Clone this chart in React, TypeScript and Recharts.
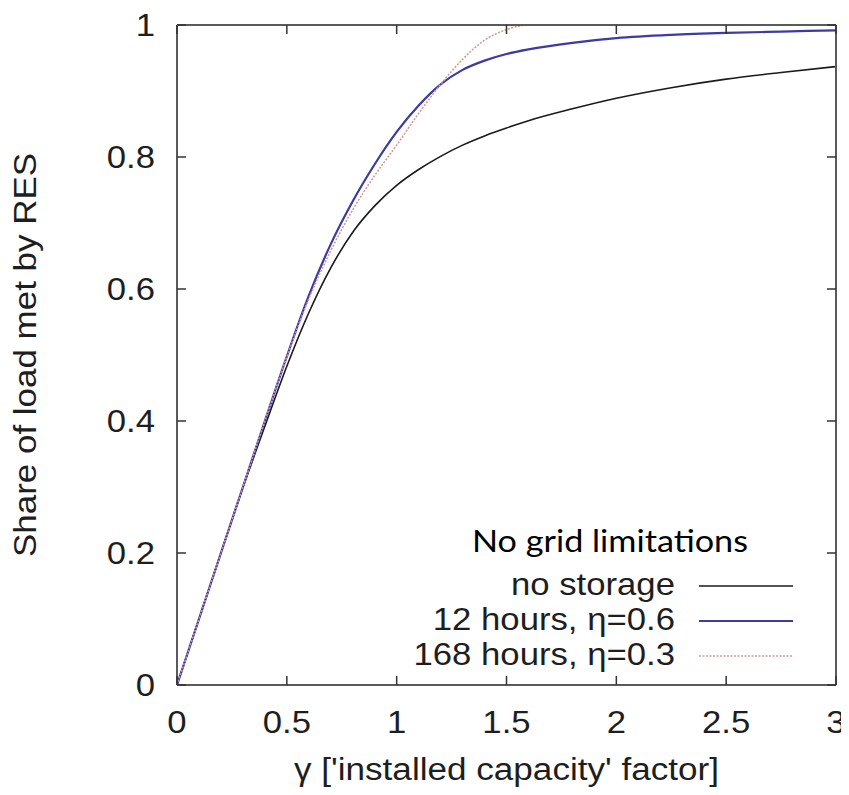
import React from 'react';
import { LineChart, Line, XAxis, YAxis, Legend } from 'recharts';

// ---- data ----
const gamma = [0, 0.1, 0.2, 0.3, 0.4, 0.5, 0.6, 0.7, 0.8, 0.9, 1.0, 1.1, 1.2, 1.3, 1.4, 1.5, 1.6, 1.8, 2.0, 2.25, 2.5, 2.75, 3.0];
const noStorage = [0, 0.1, 0.2, 0.299, 0.392, 0.483, 0.564, 0.632, 0.686, 0.726, 0.757, 0.781, 0.801, 0.818, 0.832, 0.844, 0.855, 0.873, 0.889, 0.905, 0.918, 0.928, 0.937];
const hours12 = [0, 0.1, 0.2, 0.3, 0.4, 0.498, 0.59, 0.668, 0.733, 0.789, 0.838, 0.878, 0.91, 0.932, 0.946, 0.956, 0.963, 0.973, 0.98, 0.985, 0.988, 0.99, 0.992];
const hours168 = [0, 0.1, 0.2, 0.3, 0.4, 0.497, 0.585, 0.658, 0.72, 0.772, 0.818, 0.866, 0.91, 0.948, 0.977, 0.993, 1.0, 1.0, 1.0, 1.0, 1.0, 1.0, 1.0];

const xTicks = [0, 0.5, 1, 1.5, 2, 2.5, 3];
const yTicks = [0, 0.2, 0.4, 0.6, 0.8, 1];

const seriesNames = ['no storage', '12 hours, \u03b7=0.6', '168 hours, \u03b7=0.3'];
const seriesKeys = ['none', 'h12', 'h168'];
const seriesColors = ['#1a1a1a', '#3b3ba3', '#d09a98'];
const seriesWidths = [1.6, 2.2, 1.6];
const seriesDash = [undefined, undefined, '2 1.5'];

const legendTitle = 'No grid limitations';
const xTitle = "\u03b3 ['installed capacity' factor]";
const yTitle = 'Share of load met by RES';

const data = gamma.map((g, i) => ({ g, none: noStorage[i], h12: hours12[i], h168: hours168[i] }));

// ---- layout ----
const CHART_W = 835;
const CHART_H = 787;
const MARGIN = { top: 7, right: 2, bottom: 10, left: 49 };
const LEFT_AXIS_W = 120;
const RIGHT_AXIS_W = 5;
const TOP_AXIS_H = 10;
const BOTTOM_AXIS_H = 100;
const PLOT_W = CHART_W - MARGIN.left - MARGIN.right - LEFT_AXIS_W - RIGHT_AXIS_W;
const PLOT_H = CHART_H - MARGIN.top - MARGIN.bottom - TOP_AXIS_H - BOTTOM_AXIS_H;

// ---- styling ----
const FONT = '"Liberation Sans", Arial, Helvetica, sans-serif';
const TICK_LEN = 9;
const TICK_COLOR = '#333';
const FRAME = '#5a5a5a';
const TXT = '#1e1e1e';
const FS = 31;
const SX = 1.12;

const fmt = (v: number) => String(Math.round(v * 10) / 10);

const BottomTick = (p: any) => {
  const { x, y, payload } = p;
  const top = y - PLOT_H;
  return (
    <g>
      <line x1={x} x2={x} y1={y} y2={y - TICK_LEN} stroke={TICK_COLOR} strokeWidth={1.5} />
      <line x1={x} x2={x} y1={top} y2={top + TICK_LEN} stroke={TICK_COLOR} strokeWidth={1.5} />
      <text transform={`translate(${x},${y + 48}) scale(${SX},1)`} textAnchor="middle" fontSize={FS} fontFamily={FONT} fill={TXT}>
        {fmt(payload.value)}
      </text>
    </g>
  );
};

const LeftTick = (p: any) => {
  const { x, y, payload } = p;
  const ax = x + 22;
  const rx = ax + PLOT_W;
  return (
    <g>
      <line x1={ax} x2={ax + TICK_LEN} y1={y} y2={y} stroke={TICK_COLOR} strokeWidth={1.5} />
      <line x1={rx} x2={rx - TICK_LEN} y1={y} y2={y} stroke={TICK_COLOR} strokeWidth={1.5} />
      <text transform={`translate(${x},${y + 11}) scale(${SX},1)`} textAnchor="end" fontSize={FS} fontFamily={FONT} fill={TXT}>
        {fmt(payload.value)}
      </text>
    </g>
  );
};

const XTitle = (p: any) => {
  const vb = p.viewBox || { x: 169, y: 677, width: PLOT_W, height: BOTTOM_AXIS_H };
  return (
    <text x={vb.x + vb.width / 2} y={vb.y + 95} textAnchor="middle" fontSize={FS} fontFamily={FONT} fill={TXT} textLength={425} lengthAdjust="spacingAndGlyphs">
      {xTitle}
    </text>
  );
};

const YTitle = (p: any) => {
  const vb = p.viewBox || { x: 49, y: 17, width: LEFT_AXIS_W, height: PLOT_H };
  const cx = vb.x - 21;
  const cy = vb.y + vb.height / 2;
  return (
    <text x={cx} y={cy} transform={`rotate(-90, ${cx}, ${cy})`} textAnchor="middle" fontSize={FS} fontFamily={FONT} fill={TXT} textLength={404} lengthAdjust="spacingAndGlyphs">
      {yTitle}
    </text>
  );
};

const LegendContent = () => (
  <svg width={CHART_W} height={CHART_H} style={{ position: 'absolute', left: 0, top: 0, pointerEvents: 'none', overflow: 'visible' }}>
    <text x={464} y={544} fontSize={31} fontWeight={400} fontFamily='Lato, "Open Sans", sans-serif' fill="#000" textLength={276} lengthAdjust="spacingAndGlyphs">
      {legendTitle}
    </text>
    {seriesNames.map((name, i) => {
      const base = 587 + i * 35;
      return (
        <g key={name}>
          <text transform={`translate(667,${base}) scale(${SX},1)`} textAnchor="end" fontSize={FS} fontFamily={FONT} fill={TXT}>
            {name}
          </text>
          <line x1={691} x2={785} y1={base - 9} y2={base - 9} stroke={seriesColors[i]} strokeWidth={seriesWidths[i]} strokeDasharray={seriesDash[i]} />
        </g>
      );
    })}
  </svg>
);

export default function App() {
  return (
    <div>
      <style>{'.recharts-surface{overflow:visible}'}</style>
      <LineChart width={CHART_W} height={CHART_H} data={data} margin={MARGIN}>
        <XAxis
          dataKey="g"
          type="number"
          domain={[0, 3]}
          ticks={xTicks}
          interval={0}
          height={BOTTOM_AXIS_H}
          tickSize={0}
          tickMargin={0}
          tickLine={false}
          axisLine={{ stroke: FRAME, strokeWidth: 2 }}
          tick={<BottomTick />}
          label={{ content: <XTitle /> }}
        />
        <XAxis
          xAxisId="top"
          orientation="top"
          dataKey="g"
          type="number"
          domain={[0, 3]}
          height={TOP_AXIS_H}
          tick={false}
          tickLine={false}
          axisLine={{ stroke: FRAME, strokeWidth: 2 }}
        />
        <YAxis
          type="number"
          domain={[0, 1]}
          ticks={yTicks}
          interval={0}
          width={LEFT_AXIS_W}
          tickSize={0}
          tickMargin={22}
          tickLine={false}
          axisLine={{ stroke: FRAME, strokeWidth: 2 }}
          tick={<LeftTick />}
          label={{ content: <YTitle /> }}
        />
        <YAxis
          yAxisId="right"
          orientation="right"
          type="number"
          domain={[0, 1]}
          width={RIGHT_AXIS_W}
          tick={false}
          tickLine={false}
          axisLine={{ stroke: FRAME, strokeWidth: 2 }}
        />
        {seriesKeys.map((k, i) => (
          <Line
            key={k}
            dataKey={k}
            name={seriesNames[i]}
            type="monotone"
            stroke={seriesColors[i]}
            strokeWidth={seriesWidths[i]}
            strokeDasharray={seriesDash[i]}
            dot={false}
            activeDot={false}
            isAnimationActive={false}
          />
        ))}
        <Legend
          layout="horizontal"
          verticalAlign="middle"
          align="center"
          wrapperStyle={{ left: 0, top: 0, width: CHART_W, height: CHART_H, pointerEvents: 'none' }}
          content={<LegendContent />}
        />
      </LineChart>
    </div>
  );
}
